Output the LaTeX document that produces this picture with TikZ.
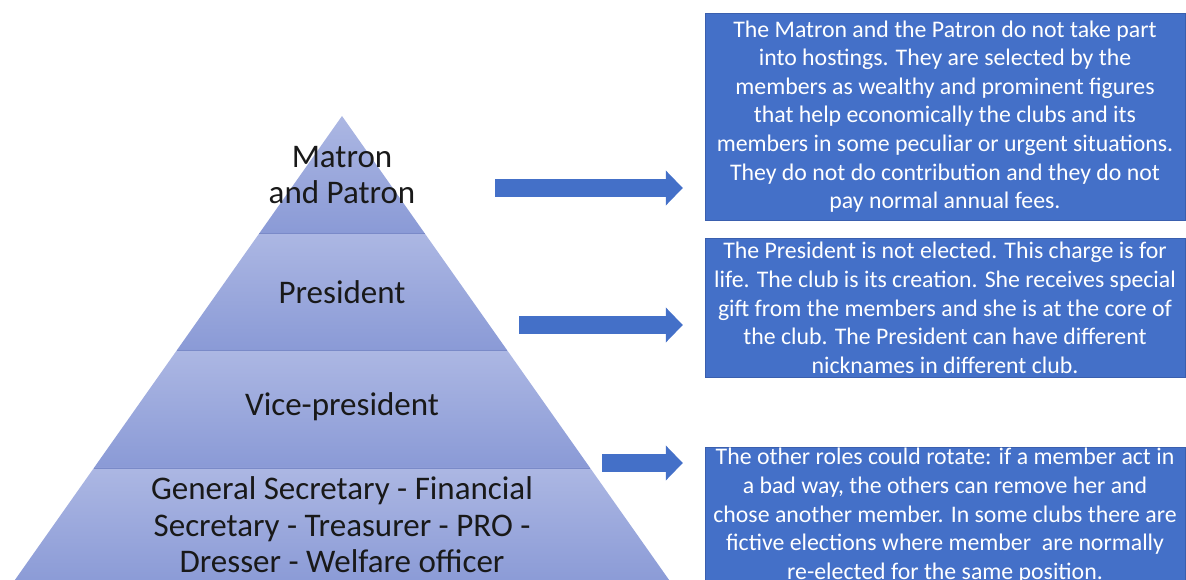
\documentclass[tikz,border=0pt]{standalone}
\usepackage{fontspec}
\setmainfont{Carlito}
\usetikzlibrary{positioning, arrows.meta}
\definecolor{layerTop}{HTML}{ACB7E3}
\definecolor{layerBot}{HTML}{8A9AD6}
\definecolor{layerLine}{HTML}{7A8AC8}
\definecolor{noteBlue}{HTML}{4470C8}
\definecolor{noteEdge}{HTML}{3A5FAE}
\tikzset{
  note/.style={fill=noteBlue, draw=noteEdge, text=white, align=center,
    font=\fontsize{23.8}{28.6}\selectfont, minimum width=480pt, inner sep=0pt},
  level/.style={align=center, text=black!90, font=\fontsize{33}{36.5}\selectfont},
  fatarrow/.style={draw=noteBlue, line width=18pt,
    -{Triangle[width=34pt,length=17pt]}, shorten >=22pt}
}
\begin{document}
\begin{tikzpicture}[x=1pt, y=-1pt]
  \useasboundingbox (0,0) rectangle (1186,580);
  \clip (0,0) rectangle (1186,580);

  % pyramid layers
  \foreach \i in {0,...,3} {
    \pgfmathsetmacro\yt{116+117.3*\i}
    \pgfmathsetmacro\yb{116+117.3*(\i+1)}
    \pgfmathsetmacro\wt{0.705*(\yt-116)}
    \pgfmathsetmacro\wb{0.705*(\yb-116)}
    \shade[top color=layerTop, bottom color=layerBot]
      ({342-\wt},\yt) -- ({342+\wt},\yt) -- ({342+\wb},\yb) -- ({342-\wb},\yb) -- cycle;
    \draw[layerLine, line width=0.6pt] ({342-\wt},\yt) -- ({342+\wt},\yt);
  }

  \node[level] (lvlTop) at (342,175) {Matron\\and Patron};
  \node[level] (lvlPres) at (342,292) {President};
  \node[level] (lvlVice) at (342,407) {Vice-president};
  \node[level] (lvlOther) at (342,525) {General Secretary - Financial\\Secretary - Treasurer - PRO -\\Dresser - Welfare officer};

  % notes on the right
  \node[note, minimum height=207pt] (noteMatron) at (945,116.5)
    {The Matron and the Patron do not take part\\into hostings. They are selected by the\\members as wealthy and prominent figures\\that help economically the clubs and its\\members in some peculiar or urgent situations.\\They do not do contribution and they do not\\pay normal annual fees.};
  \node[note, minimum height=139pt, below=18pt of noteMatron] (notePres)
    {The President is not elected. This charge is for\\life. The club is its creation. She receives special\\gift from the members and she is at the core of\\the club. The President can have different\\nicknames in different club.};
  \node[note, minimum height=138pt, below=69pt of notePres] (noteOther)
    {The other roles could rotate: if a member act in\\a bad way, the others can remove her and\\chose another member. In some clubs there are\\fictive elections where member\ \ are normally\\re-elected for the same position.};

  % arrows
  \coordinate (arrMatron) at (495,188);
  \coordinate (arrPres) at (519,325);
  \coordinate (arrOther) at (602,463);
  \draw[fatarrow] (arrMatron) -- (arrMatron -| noteMatron.west);
  \draw[fatarrow] (arrPres) -- (arrPres -| notePres.west);
  \draw[fatarrow] (arrOther) -- (arrOther -| noteOther.west);
\end{tikzpicture}
\end{document}
